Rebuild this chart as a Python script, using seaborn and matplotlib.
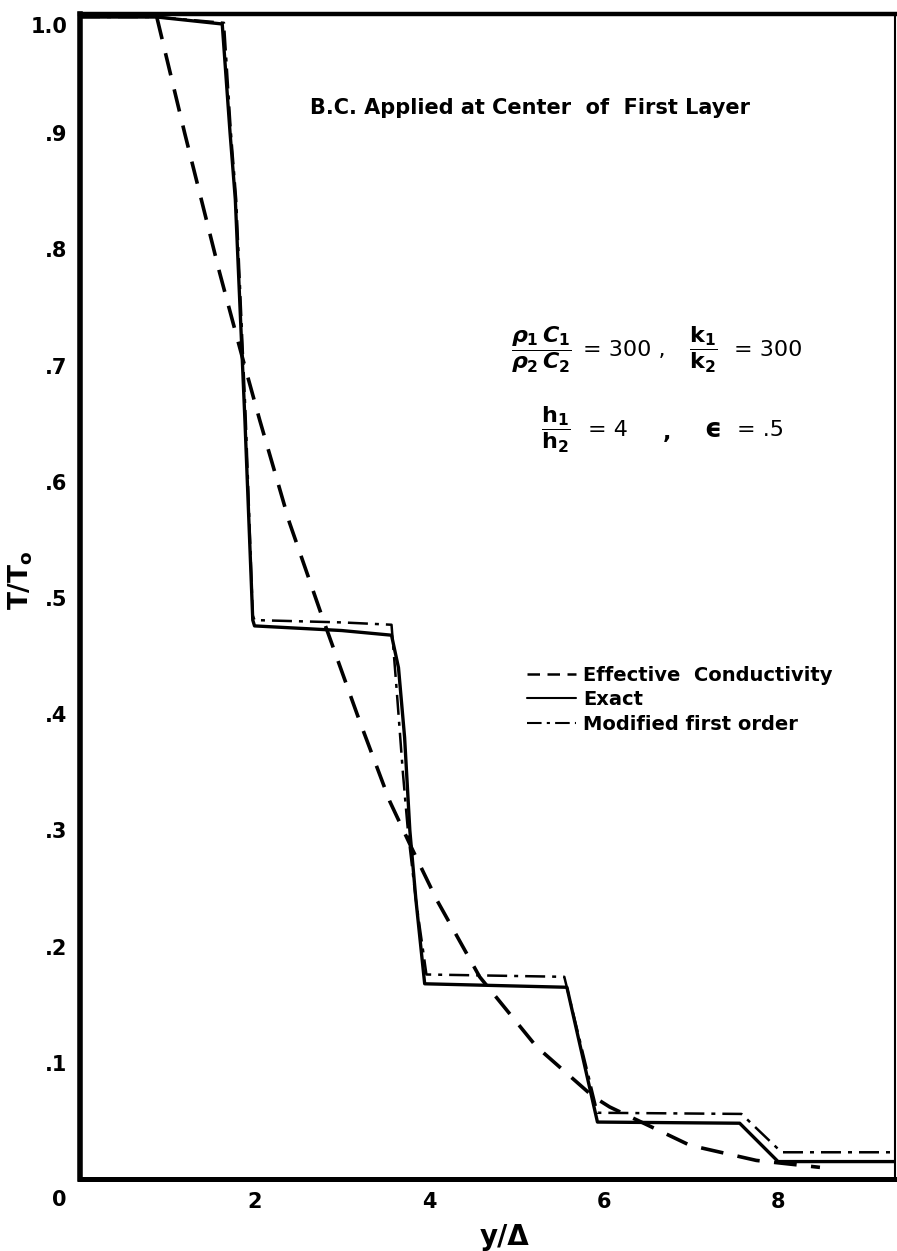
import numpy as np
import pandas as pd
import seaborn as sns
import matplotlib
matplotlib.use("Agg")
import matplotlib.pyplot as plt
import matplotlib.transforms as mtransforms
from matplotlib.lines import Line2D

# values (y/Delta, T/T0)
eff_x = [0.88, 1.2, 1.37, 1.6, 1.85, 2.06, 2.4, 2.77, 3.2, 3.55, 3.8, 4.09,
         4.58, 5.23, 5.88, 6.07, 6.99, 7.75, 8.48]
eff_y = [1.0, 0.9, 0.849, 0.78, 0.71, 0.653, 0.565, 0.485, 0.395, 0.325, 0.285, 0.24,
         0.174, 0.114, 0.071, 0.062, 0.029, 0.016, 0.010]

exact_x = [0.0, 0.88, 1.63, 1.72, 1.78, 1.89, 1.98, 2.0, 3.0, 3.57, 3.65, 3.72,
           3.78, 3.85, 3.95, 5.58, 5.93, 7.56, 8.0, 9.34]
exact_y = [1.0, 1.0, 0.994, 0.9, 0.843, 0.653, 0.481, 0.476, 0.472, 0.468, 0.44, 0.38,
           0.30, 0.24, 0.168, 0.165, 0.049, 0.048, 0.015, 0.015]

mod_x = [0.0, 0.88, 1.65, 1.73, 1.79, 1.9, 1.98, 2.0, 3.0, 3.57, 3.63, 3.70,
         3.76, 3.85, 3.97, 5.55, 5.93, 7.58, 8.04, 9.34]
mod_y = [1.0, 1.0, 0.995, 0.9, 0.843, 0.653, 0.485, 0.481, 0.479, 0.477, 0.42, 0.35,
         0.298, 0.24, 0.176, 0.174, 0.057, 0.056, 0.023, 0.023]

xticks = [2, 4, 6, 8]
xticklabels = ["2", "4", "6", "8"]
yticks = [0.1, 0.2, 0.3, 0.4, 0.5, 0.6, 0.7, 0.8, 0.9, 1.0]
yticklabels = [".1", ".2", ".3", ".4", ".5", ".6", ".7", ".8", ".9", "1.0"]

sns.set_style("white")
plt.rcParams["font.family"] = ["DejaVu Sans"]
plt.rcParams["font.weight"] = "bold"
plt.rcParams["text.color"] = "black"
plt.rcParams["xtick.color"] = "black"
plt.rcParams["ytick.color"] = "black"

W, H = 897, 1251
L, R, T, B = 80, 895, 14, 1179

fig = plt.figure(figsize=(W / 100, H / 100), dpi=100)
ax = fig.add_axes([L / W, 1 - B / H, (R - L) / W, (B - T) / H])


def ax_px(px, py):
    # pixel position in the picture -> axes fraction
    return (px - L) / (R - L), (B - py) / (B - T)


df_eff = pd.DataFrame({"x": eff_x, "y": eff_y})
df_exact = pd.DataFrame({"x": exact_x, "y": exact_y})
df_mod = pd.DataFrame({"x": mod_x, "y": mod_y})

sns.lineplot(data=df_eff, x="x", y="y", ax=ax, sort=False, estimator=None,
             color="black", lw=2.6)
ax.lines[-1].set_dashes((6.3, 4))
sns.lineplot(data=df_exact, x="x", y="y", ax=ax, sort=False, estimator=None,
             color="black", lw=2.4)
sns.lineplot(data=df_mod, x="x", y="y", ax=ax, sort=False, estimator=None,
             color="black", lw=1.8)
ax.lines[-1].set_dashes((8, 2.8, 1.6, 2.8))

ax.set_xlim(0, 9.34)
ax.set_ylim(0, 1.0026)
ax.set_xticks(xticks)
ax.set_xticklabels(xticklabels)
ax.set_yticks(yticks)
ax.set_yticklabels(yticklabels)
ax.tick_params(axis="both", direction="in", length=11, width=1.5, labelsize=15)
ax.tick_params(axis="y", pad=9)
ax.tick_params(axis="x", pad=9)
for t in ax.get_xticklabels() + ax.get_yticklabels():
    t.set_fontweight("bold")
# the "1.0" label sits a little below its tick in the original
top_lbl = ax.get_yticklabels()[-1]
top_lbl.set_transform(top_lbl.get_transform() +
                      mtransforms.ScaledTranslation(0, -8 / 100, fig.dpi_scale_trans))

for side, w in [("left", 4.0), ("bottom", 3.6), ("top", 3.2), ("right", 1.5)]:
    ax.spines[side].set_visible(True)
    ax.spines[side].set_linewidth(w)
    ax.spines[side].set_color("black")

ax.set_xlabel("")
ax.set_ylabel("")
fig.text(59 / W, 1 - 1200 / H, "0", fontsize=15, fontweight="bold",
         ha="center", va="center")
fig.text(21 / W, 1 - 580 / H, r"T/T$_{\mathsf{o}}$", fontsize=19, fontweight="bold",
         rotation=90, ha="center", va="center")
fig.text(505 / W, 1 - 1237 / H, "y/Δ", fontsize=20, fontweight="bold",
         ha="center", va="center")

ax.text(*ax_px(530, 108), "B.C. Applied at Center  of  First Layer", transform=ax.transAxes,
        fontsize=15, ha="center", va="center")

# parameter block
fs = 16
ax.text(*ax_px(541, 350), r"$\dfrac{\rho_1\,C_1}{\rho_2\,C_2}$", transform=ax.transAxes,
        fontsize=fs, ha="center", va="center", fontweight="normal")
ax.text(*ax_px(583, 350), "= 300 ,", transform=ax.transAxes,
        fontsize=fs, ha="left", va="center", fontweight="normal")
ax.text(*ax_px(703, 350), r"$\dfrac{\mathrm{k}_1}{\mathrm{k}_2}$", transform=ax.transAxes,
        fontsize=fs, ha="center", va="center", fontweight="normal")
ax.text(*ax_px(734, 350), "= 300", transform=ax.transAxes,
        fontsize=fs, ha="left", va="center", fontweight="normal")
ax.text(*ax_px(556, 430), r"$\dfrac{\mathrm{h}_1}{\mathrm{h}_2}$", transform=ax.transAxes,
        fontsize=fs, ha="center", va="center", fontweight="normal")
ax.text(*ax_px(588, 430), "= 4", transform=ax.transAxes,
        fontsize=fs, ha="left", va="center", fontweight="normal")
ax.text(*ax_px(667, 433), ",", transform=ax.transAxes,
        fontsize=fs, ha="center", va="center", fontweight="bold")
ax.text(*ax_px(713, 430), "ϵ", transform=ax.transAxes,
        fontsize=19, ha="center", va="center", fontweight="bold")
ax.text(*ax_px(737, 430), "= .5", transform=ax.transAxes,
        fontsize=fs, ha="left", va="center", fontweight="normal")

handles = [
    Line2D([], [], color="black", lw=1.8, dashes=(5, 3)),
    Line2D([], [], color="black", lw=1.5),
    Line2D([], [], color="black", lw=1.5, dashes=(7, 2.5, 1.5, 2.5)),
]
labels = ["Effective  Conductivity", "Exact", "Modified first order"]
ax.legend(handles, labels, loc="upper left", bbox_to_anchor=ax_px(527, 666),
          frameon=False, fontsize=14, handlelength=2.5, handletextpad=0.4,
          labelspacing=0.27, borderaxespad=0, borderpad=0)

fig.savefig("out.png", dpi=100, facecolor="white")
